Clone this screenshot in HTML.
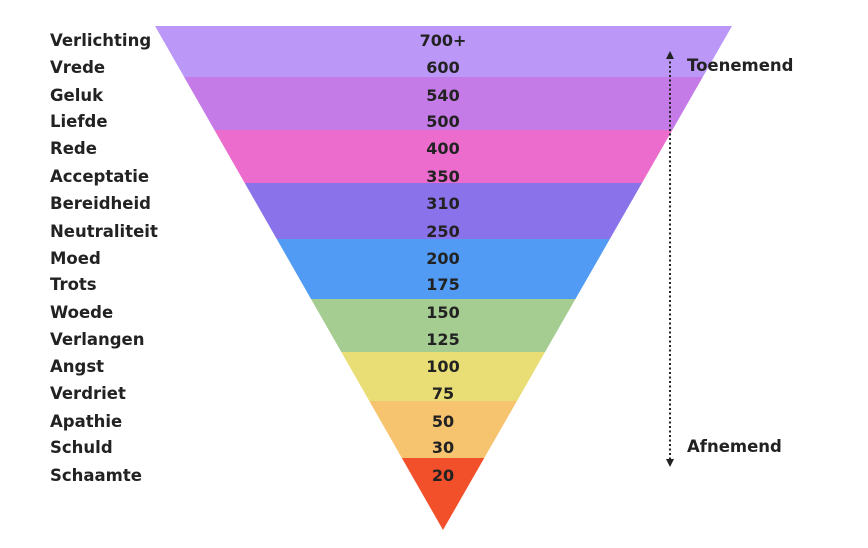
<!DOCTYPE html>
<html><head><meta charset="utf-8"><style>
html,body{margin:0;padding:0;background:#fff;width:868px;height:548px;overflow:hidden}
svg text{font-family:"DejaVu Sans","Liberation Sans",sans-serif;font-weight:bold;fill:#222}
</style></head><body>
<svg width="868" height="548" viewBox="0 0 868 548" xmlns="http://www.w3.org/2000/svg">
<defs><clipPath id="tri"><polygon points="155,26 732,26 443,530"/></clipPath></defs>
<g clip-path="url(#tri)">
<rect x="0" y="26" width="868" height="51" fill="#bb97f7"/>
<rect x="0" y="77" width="868" height="53" fill="#c47be7"/>
<rect x="0" y="130" width="868" height="53" fill="#ec6ccd"/>
<rect x="0" y="183" width="868" height="56" fill="#8a72ea"/>
<rect x="0" y="239" width="868" height="60" fill="#519bf4"/>
<rect x="0" y="299" width="868" height="53" fill="#a5cd92"/>
<rect x="0" y="352" width="868" height="49" fill="#e9de75"/>
<rect x="0" y="401" width="868" height="57" fill="#f6c36f"/>
<rect x="0" y="458" width="868" height="80" fill="#f2502b"/>
</g>
<g font-size="16.5">
<text x="50" y="46">Verlichting</text>
<text x="50" y="73">Vrede</text>
<text x="50" y="101">Geluk</text>
<text x="50" y="127">Liefde</text>
<text x="50" y="154">Rede</text>
<text x="50" y="182">Acceptatie</text>
<text x="50" y="209">Bereidheid</text>
<text x="50" y="237">Neutraliteit</text>
<text x="50" y="264">Moed</text>
<text x="50" y="290">Trots</text>
<text x="50" y="318">Woede</text>
<text x="50" y="345">Verlangen</text>
<text x="50" y="372">Angst</text>
<text x="50" y="399">Verdriet</text>
<text x="50" y="427">Apathie</text>
<text x="50" y="453">Schuld</text>
<text x="50" y="481">Schaamte</text>
</g>
<g font-size="16" text-anchor="middle">
<text x="443" y="46">700+</text>
<text x="443" y="73">600</text>
<text x="443" y="101">540</text>
<text x="443" y="127">500</text>
<text x="443" y="154">400</text>
<text x="443" y="182">350</text>
<text x="443" y="209">310</text>
<text x="443" y="237">250</text>
<text x="443" y="264">200</text>
<text x="443" y="290">175</text>
<text x="443" y="318">150</text>
<text x="443" y="345">125</text>
<text x="443" y="372">100</text>
<text x="443" y="399">75</text>
<text x="443" y="427">50</text>
<text x="443" y="453">30</text>
<text x="443" y="481">20</text>
</g>
<line x1="670" y1="57" x2="670" y2="460" stroke="#222" stroke-width="2" stroke-dasharray="2,2.5"/>
<polygon points="666,59 674,59 670,51" fill="#222"/>
<polygon points="666,459 674,459 670,467" fill="#222"/>
<text x="687" y="71" font-size="16.5">Toenemend</text>
<text x="687" y="452" font-size="16.5">Afnemend</text>
</svg>
</body></html>
